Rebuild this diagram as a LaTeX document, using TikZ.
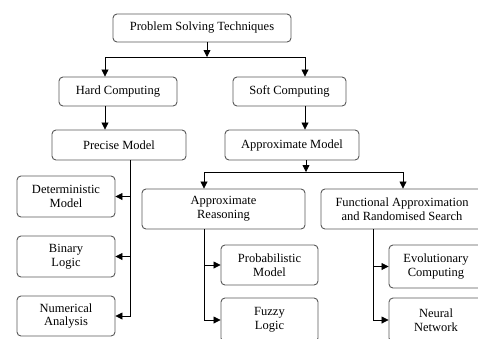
\documentclass[tikz,border=0pt]{standalone}
\usepackage{fontspec}
\setmainfont{Liberation Serif}
\usetikzlibrary{arrows.meta}
\begin{document}
\begin{tikzpicture}[x=1pt,y=-1pt,
  box/.style={draw=black!65,line width=0.9pt,rounded corners=4pt,align=center,inner sep=0pt,
    font=\fontsize{12.5}{13.6}\selectfont},
  arr/.style={line width=0.8pt,-{Triangle[length=7pt,width=7pt]}},
  ln/.style={line width=0.8pt}]
\useasboundingbox (0,0) rectangle (478,338);
\clip (0,0) rectangle (478,338);
\fill[white] (0,0) rectangle (478,338);
% boxes
\node[box,minimum width=178pt,minimum height=28pt] (pst) at (202,28) {Problem Solving Techniques};
\node[box,minimum width=118pt,minimum height=29pt] (hard) at (118,91.5) {Hard Computing};
\node[box,minimum width=113pt,minimum height=29pt] (soft) at (289.5,91.5) {Soft Computing};
\node[box,minimum width=134pt,minimum height=30pt] (precise) at (119,145) {Precise Model};
\node[box,minimum width=134pt,minimum height=30pt] (am) at (292,145) {Approximate Model};
\node[box,minimum width=163pt,minimum height=40pt] (ar) at (223.5,209) {Approximate\\Reasoning};
\node[box,minimum width=162pt,minimum height=40pt] (fa) at (402,209) {Functional Approximation\\and Randomised Search};
\node[box,minimum width=98pt,minimum height=41pt] (det) at (66,196.5) {Deterministic\\Model};
\node[box,minimum width=98pt,minimum height=41pt] (bin) at (66,256.5) {Binary\\Logic};
\node[box,minimum width=98pt,minimum height=40pt] (num) at (66,316) {Numerical\\Analysis};
\node[box,minimum width=97pt,minimum height=40pt] (prob) at (269.5,265) {Probabilistic\\Model};
\node[box,minimum width=97pt,minimum height=44pt] (fuzzy) at (269.5,320) {Fuzzy\\Logic};
\node[box,minimum width=94pt,minimum height=43pt] (evol) at (436,266.5) {Evolutionary\\Computing};
\node[box,minimum width=94pt,minimum height=44pt] (neur) at (436,320) {Neural\\Network};
% junctions
\coordinate (j1) at (207,57);
\coordinate (j1l) at (105,57);
\coordinate (j1r) at (305,57);
\coordinate (j2) at (306,172);
\coordinate (j2l) at (204,172);
\coordinate (j2r) at (403,172);
\coordinate (lv) at (130,0);
\coordinate (av) at (204,0);
\coordinate (fv) at (373,0);
% connectors
\draw[arr] (pst.south -| j1) -- (j1);
\draw[ln] (j1l) -- (j1r);
\draw[arr] (j1l) -- (hard.north -| j1l);
\draw[arr] (j1r) -- (soft.north -| j1r);
\draw[arr] (hard.south -| j1l) -- (precise.north -| j1l);
\draw[arr] (soft.south -| j1r) -- (am.north -| j1r);
\draw[arr] (am.south -| j2) -- (j2);
\draw[ln] (j2l) -- (j2r);
\draw[arr] (j2l) -- (ar.north -| j2l);
\draw[arr] (j2r) -- (fa.north -| j2r);
\draw[arr] (precise.south -| lv) |- (num.east);
\draw[arr] (lv |- det.east) -- (det.east);
\draw[arr] (lv |- bin.east) -- (bin.east);
\draw[arr] (ar.south -| av) |- (fuzzy.west);
\draw[arr] (av |- prob.west) -- (prob.west);
\draw[arr] (fa.south -| fv) |- (neur.west);
\draw[arr] (fv |- evol.west) -- (evol.west);
\end{tikzpicture}
\end{document}
